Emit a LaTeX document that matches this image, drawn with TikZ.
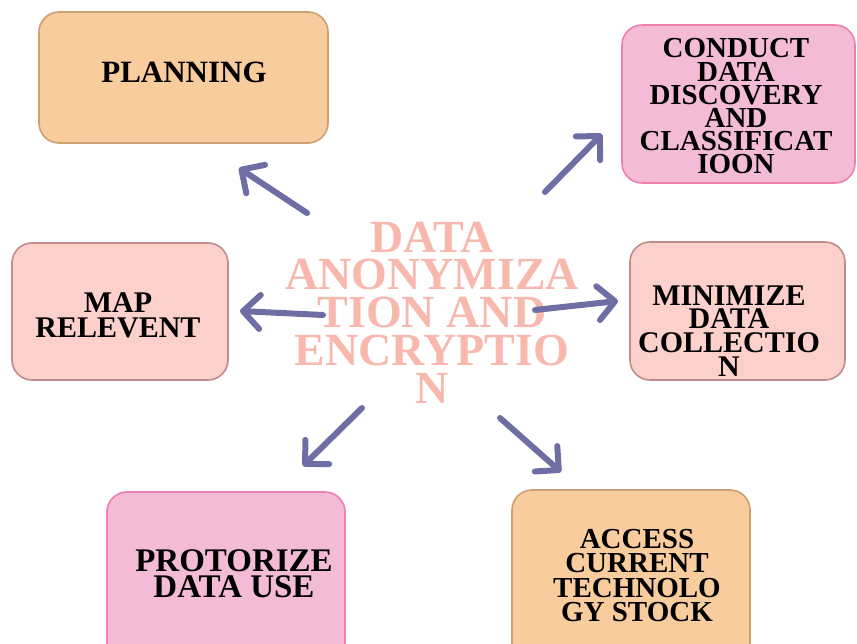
\documentclass[tikz,border=0pt]{standalone}
\usepackage{fontspec}
\setmainfont{Liberation Serif}
\usetikzlibrary{arrows.meta}
\definecolor{orfill}{RGB}{249,204,157}
\definecolor{ordraw}{RGB}{205,160,115}
\definecolor{pkfill}{RGB}{244,187,215}
\definecolor{pkdraw}{RGB}{238,125,178}
\definecolor{safill}{RGB}{252,208,203}
\definecolor{sadraw}{RGB}{190,140,140}
\definecolor{ctext}{RGB}{248,184,174}
\definecolor{arr}{RGB}{110,110,165}
\tikzset{
  box/.style={rounded corners=20bp, line width=1.6bp, inner sep=0pt},
  orbox/.style={box, fill=orfill, draw=ordraw},
  pkbox/.style={box, fill=pkfill, draw=pkdraw},
  sabox/.style={box, fill=safill, draw=sadraw},
  lbl/.style={align=center, inner sep=0pt, text=black,
    font=\fontsize{30bp}{23.5bp}\selectfont\bfseries},
  conn/.style={draw=arr, line width=6bp, line cap=round,
    -{Straight Barb[length=17bp,width=34bp,round]}},
}
\begin{document}
\begin{tikzpicture}[x=1bp,y=-1bp]
\useasboundingbox (0,0) rectangle (857,644);
\fill[white] (0,0) rectangle (857,644);
\begin{scope}
\clip (0,0) rectangle (857,644);
% boxes
\node[orbox, minimum width=289bp, minimum height=131bp] (plan) at (183.5,77.5) {};
\node[pkbox, minimum width=233bp, minimum height=158bp] (cond) at (738.5,104) {};
\node[sabox, minimum width=216bp, minimum height=137bp] (map) at (120,311.5) {};
\node[sabox, minimum width=215bp, minimum height=138bp] (mini) at (737.5,311) {};
\node[pkbox, minimum width=238bp, minimum height=180bp] (prot) at (226,582) {};
\node[orbox, minimum width=238bp, minimum height=182bp] (acc) at (631,581) {};
\end{scope}
% labels
\node[lbl, font=\fontsize{31bp}{24bp}\selectfont\bfseries] (planT) at (184,72) {PLANNING};
\node[lbl, font=\fontsize{29bp}{23.2bp}\selectfont\bfseries] (condT) at (736,106.5) {CONDUCT\\DATA\\DISCOVERY\\AND\\CLASSIFICAT\\IOON};
\node[lbl, font=\fontsize{30bp}{25bp}\selectfont\bfseries] (mapT) at (118,315.5) {MAP\\RELEVENT};
\node[lbl, font=\fontsize{30bp}{23.7bp}\selectfont\bfseries] (miniT) at (729,331) {MINIMIZE\\DATA\\COLLECTIO\\N};
\node[lbl, font=\fontsize{33bp}{26bp}\selectfont\bfseries] (protT) at (234,573.5) {PROTORIZE\\DATA USE};
\node[lbl, font=\fontsize{29bp}{24.2bp}\selectfont\bfseries] (accT) at (637,575.5) {ACCESS\\CURRENT\\TECHNOLO\\GY STOCK};
% center
\node[align=center, inner sep=0pt, text=ctext,
  font=\fontsize{46bp}{37.75bp}\selectfont\bfseries] (ctr) at (432,312.5)
  {DATA\\ANONYMIZA\\TION AND\\ENCRYPTIO\\N};
% arrow ends
\coordinate (a1) at (307,213); \coordinate (b1) at (239,168);
\coordinate (a2) at (545,192); \coordinate (b2) at (602,134);
\coordinate (a3) at (323,315); \coordinate (b3) at (240,311);
\coordinate (a4) at (535,310); \coordinate (b4) at (618,301);
\coordinate (a5) at (362,408); \coordinate (b5) at (303,466);
\coordinate (a6) at (500,418); \coordinate (b6) at (561,472);
\draw[conn] (a1) -- (b1);
\draw[conn] (a2) -- (b2);
\draw[conn] (a3) -- (b3);
\draw[conn] (a4) -- (b4);
\draw[conn] (a5) -- (b5);
\draw[conn] (a6) -- (b6);
\end{tikzpicture}
\end{document}
